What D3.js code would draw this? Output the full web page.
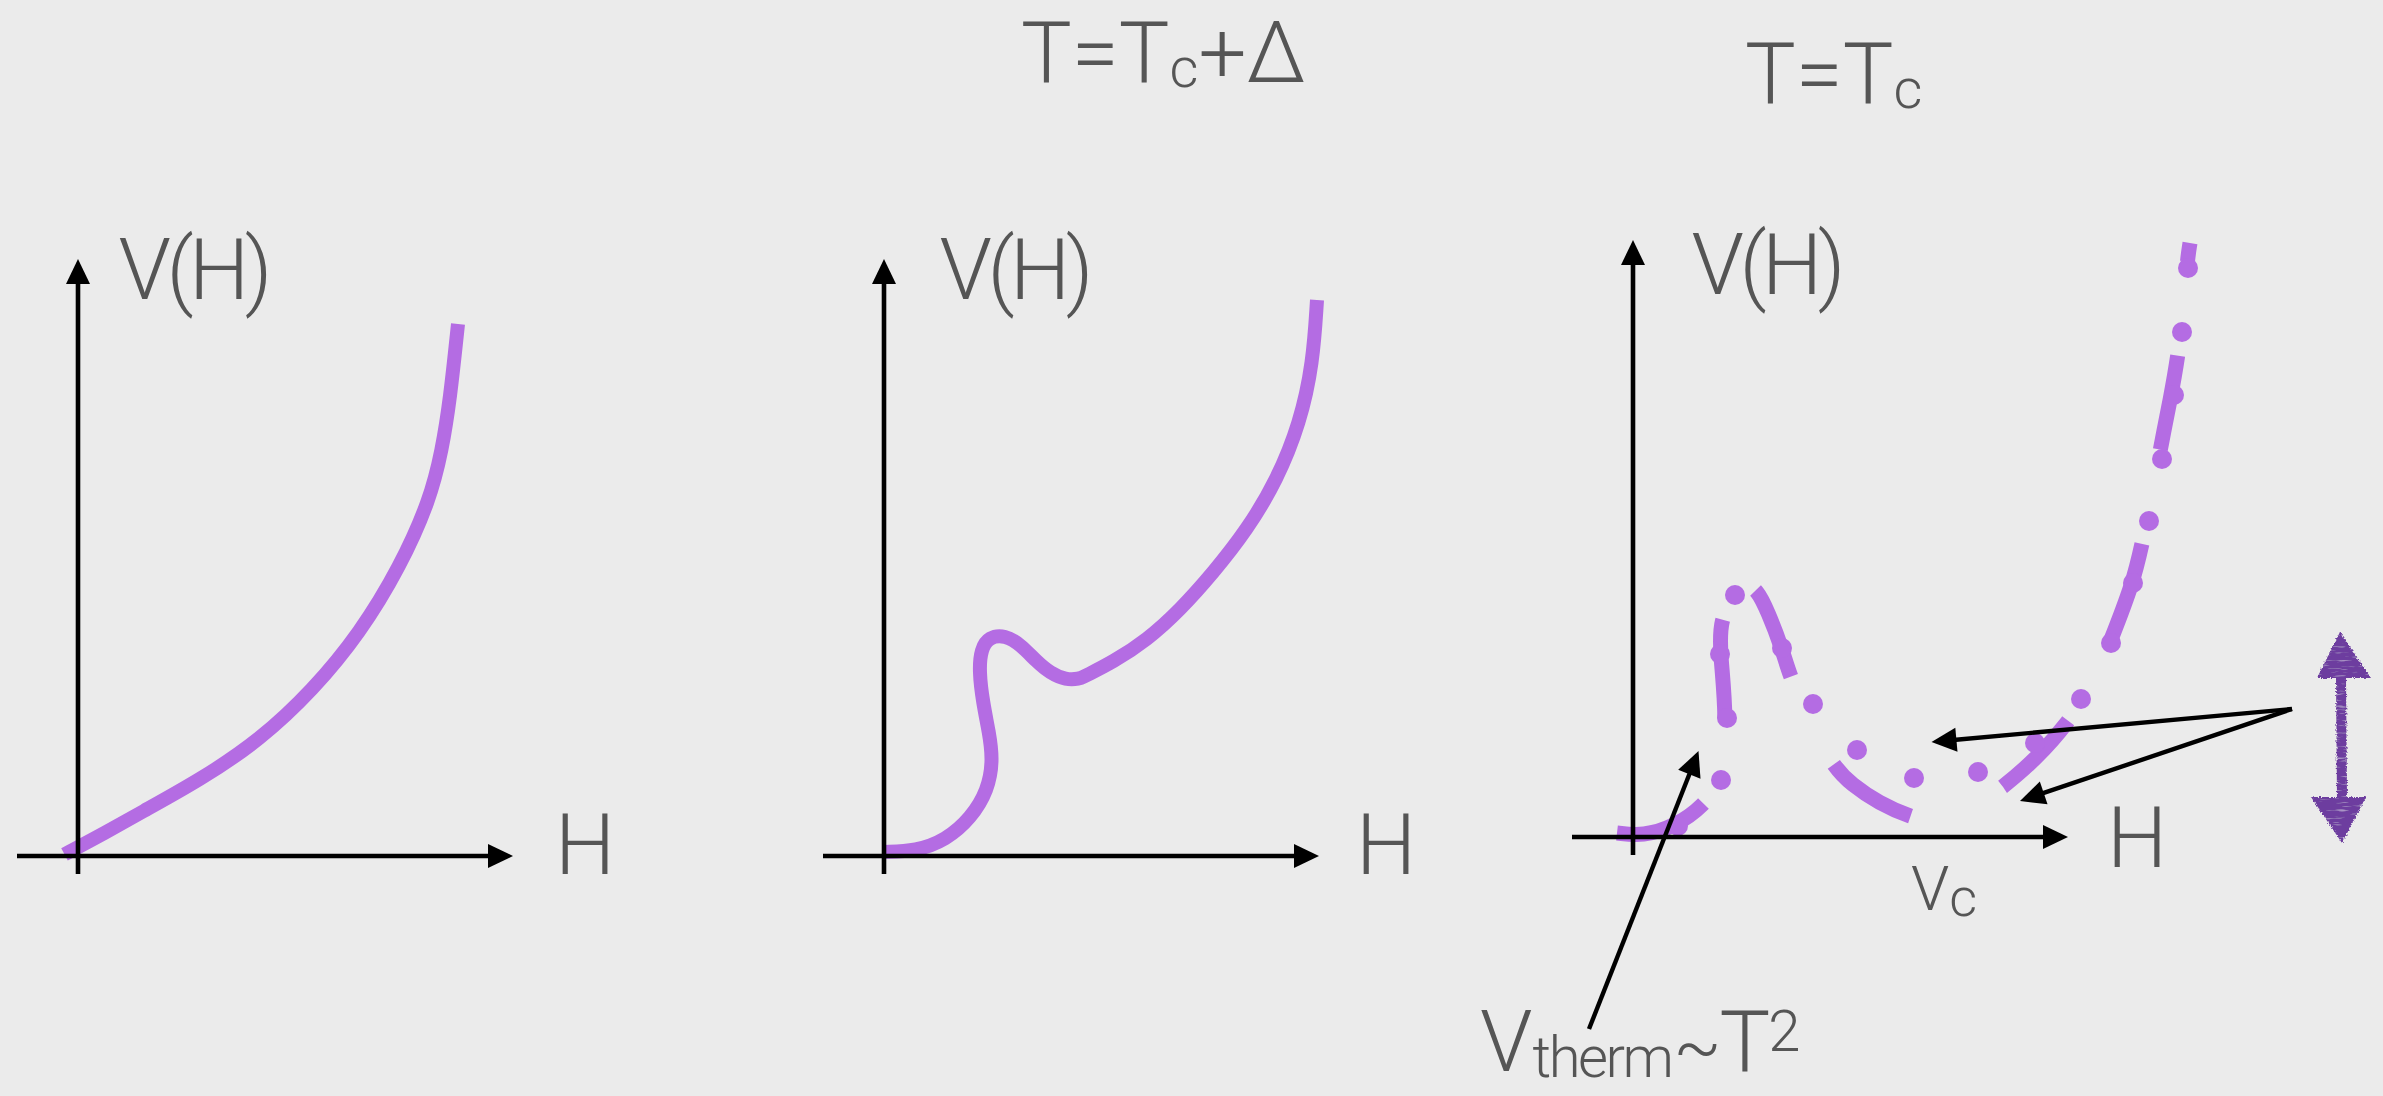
<!DOCTYPE html>
<html>
<head>
<meta charset="utf-8">
<script src="https://cdn.jsdelivr.net/npm/d3@7"></script>
<style>
html,body{margin:0;padding:0;background:#ebebeb;}
svg{display:block;}
text{font-family:"Roboto","Helvetica Neue","Liberation Sans",sans-serif;font-weight:300;fill:#555;}
</style>
</head>
<body>
<script>
// ---------------- DATA (panel units: H along x, V along y, origin at axis crossing) -------------
const panelTitles = ["", "T=Tc+Δ", "T=Tc"];
const axisH = [-0.61, 4.35];
const axisV = [-0.18, 5.97];

// Panel 1: smooth monotone potential
const panel1Curve = [[-0.135,0.016],[0.25,0.22],[0.62,0.43],[1.22,0.76],[1.82,1.16],[2.35,1.66],[2.82,2.23],
  [3.22,2.89],[3.52,3.56],[3.64,4.06],[3.72,4.56],[3.80,5.32]];

// Panel 2 (T = Tc + Δ): S-shaped bump, then rising branch (two pieces meeting at a corner)
const panel2CurveLow = [[0.00,0.04],[0.32,0.05],[0.62,0.16],[0.87,0.38],[1.04,0.66],[1.09,0.96],[1.05,1.24],
  [0.99,1.53],[0.95,1.85],[0.97,2.07],[1.05,2.19],[1.21,2.21],[1.37,2.11],[1.52,1.95],[1.66,1.83],
  [1.82,1.76],[1.95,1.77],[2.01,1.80]];
const panel2CurveHigh = [[2.01,1.80],[2.29,1.94],[2.63,2.16],[2.96,2.46],[3.29,2.83],[3.63,3.26],
  [3.93,3.76],[4.16,4.33],[4.29,4.93],[4.33,5.56]];

// Panel 3 (T = Tc): dashed curve (deeper minimum) ...
const panel3Dashed = [[-0.16,0.04],[0.10,0.01],[0.41,0.10],[0.72,0.32],[0.88,0.57],[0.94,1.19],[0.87,1.84],
  [0.87,2.18],[1.02,2.42],[1.12,2.53],[1.24,2.48],[1.35,2.25],[1.49,1.89],[1.57,1.60],[1.77,1.15],
  [1.99,0.72],[2.19,0.52],[2.46,0.34],[2.77,0.20],[3.07,0.13],[3.37,0.25],[3.70,0.50],[4.02,0.77],
  [4.36,1.15],[4.61,1.55],[4.78,1.97],[5.00,2.54],[5.09,2.93],[5.19,3.40],[5.27,3.87],[5.38,4.41],
  [5.45,4.81],[5.51,5.30],[5.54,5.75],[5.57,5.94]];
// indices of panel3Dashed where each visible dash starts / ends
const panel3DashRanges = [[0,3],[5,7],[10,13],[15,18],[21,23],[25,27],[29,31],[33,34]];
// ... and dotted curve (shallower minimum)
const panel3Dots = [[0.45,0.11],[0.88,0.57],[0.94,1.19],[0.87,1.83],[1.02,2.42],[1.49,1.89],[1.80,1.33],
  [2.24,0.87],[2.81,0.59],[3.45,0.65],[4.02,0.94],[4.48,1.38],[4.78,1.94],[5.00,2.54],[5.16,3.16],
  [5.29,3.78],[5.41,4.42],[5.49,5.05],[5.55,5.69]];

// annotation arrows in panel-3 units: [from, to]
const panel3Arrows = [
  [[-0.44,-1.92],[0.655,0.86]],
  [[6.59,1.28],[2.985,0.95]],
  [[6.59,1.28],[3.87,0.36]]
];
// vertical double arrow (panel-3 units): x, top tip, bottom tip
const doubleArrow = {x:7.08, top:2.05, bottom:-0.06};

// ---------------- LAYOUT ----------------
const W = 2383, H = 1096;
const panels = [
  {ox:78,  oy:856, vLabel:[0.405,5.57], hLabel:[4.77,-0.18]},
  {ox:884, oy:856, vLabel:[0.555,5.57], hLabel:[4.72,-0.18]},
  {ox:1633,oy:837, vLabel:[0.585,5.43], hLabel:[4.74,-0.30]}
];
const purple = "#b46ce3";
const unit = 100;

const svg = d3.select("body").append("svg").attr("width", W).attr("height", H);
svg.append("rect").attr("width", W).attr("height", H).attr("fill", "#ebebeb");

const defs = svg.append("defs");
const f = defs.append("filter").attr("id","crayon").attr("x","-30%").attr("y","-10%").attr("width","160%").attr("height","120%");
f.append("feTurbulence").attr("type","fractalNoise").attr("baseFrequency","0.6").attr("numOctaves",2).attr("seed",3).attr("result","noise");
f.append("feDisplacementMap").attr("in","SourceGraphic").attr("in2","noise").attr("scale",4).attr("xChannelSelector","R").attr("yChannelSelector","G").attr("result","disp");
f.append("feTurbulence").attr("type","fractalNoise").attr("baseFrequency","0.06 0.5").attr("numOctaves",2).attr("seed",9).attr("result","streak");
f.append("feColorMatrix").attr("in","streak").attr("type","matrix")
  .attr("values","0 0 0 0 0.80  0 0 0 0 0.68  0 0 0 0 0.92  1.6 0 0 0 -0.95").attr("result","streakA");
f.append("feComposite").attr("in","streakA").attr("in2","disp").attr("operator","in").attr("result","streakIn");
const fm = f.append("feMerge");
fm.append("feMergeNode").attr("in","disp");
fm.append("feMergeNode").attr("in","streakIn");

function scales(p){
  const x = d3.scaleLinear().domain([0,1]).range([p.ox, p.ox+unit]);
  const y = d3.scaleLinear().domain([0,1]).range([p.oy, p.oy-unit]);
  return {x, y};
}

function arrow(g, x0, y0, x1, y1, sw=4.6, len=25, hw=12, color="#000"){
  const dx = x1-x0, dy = y1-y0, L = Math.hypot(dx,dy), ux = dx/L, uy = dy/L;
  const bx = x1-ux*len, by = y1-uy*len;
  g.append("line").attr("x1",x0).attr("y1",y0).attr("x2",bx+ux*3).attr("y2",by+uy*3)
    .attr("stroke",color).attr("stroke-width",sw);
  g.append("polygon").attr("fill",color)
    .attr("points",[[x1,y1],[bx-uy*hw,by+ux*hw],[bx+uy*hw,by-ux*hw]].map(p=>p.join(",")).join(" "));
}

function drawAxes(g, s){
  arrow(g, s.x(axisH[0]), s.y(0), s.x(axisH[1]), s.y(0));
  arrow(g, s.x(0), s.y(axisV[0]), s.x(0), s.y(axisV[1]));
}

function axisLabels(g, s, p){
  g.append("text").attr("x", s.x(p.vLabel[0])).attr("y", s.y(p.vLabel[1])).attr("font-size",85)
    .attr("letter-spacing", -4.5).text("V(H)");
  g.append("text").attr("x", s.x(p.hLabel[0])).attr("y", s.y(p.hLabel[1])).attr("font-size",85).text("H");
}

const lineGen = s => d3.line().x(d=>s.x(d[0])).y(d=>s.y(d[1])).curve(d3.curveBasis);

// ---- Panel 1
{
  const p = panels[0], s = scales(p), g = svg.append("g");
  g.append("path").attr("d", lineGen(s)(panel1Curve)).attr("fill","none").attr("stroke",purple).attr("stroke-width",14);
  drawAxes(g, s);
  axisLabels(g, s, p);
}
// ---- Panel 2
{
  const p = panels[1], s = scales(p), g = svg.append("g");
  const l = lineGen(s);
  const d = l(panel2CurveLow) + l(panel2CurveHigh).replace(/^M/, "L");
  g.append("path").attr("d", d).attr("fill","none").attr("stroke",purple).attr("stroke-width",14).attr("stroke-linejoin","round");
  drawAxes(g, s);
  axisLabels(g, s, p);
}
// ---- Panel 3
{
  const p = panels[2], s = scales(p), g = svg.append("g");
  const path = g.append("path").attr("d", lineGen(s)(panel3Dashed)).attr("fill","none")
    .attr("stroke",purple).attr("stroke-width",15);
  const node = path.node(), total = node.getTotalLength();
  const samples = [];
  for (let t=0; t<=total; t+=0.5){ const pt = node.getPointAtLength(t); samples.push([t, pt.x, pt.y]); }
  const cum = []; let from = 0;
  panel3Dashed.forEach((d,i)=>{
    const px = s.x(d[0]), py = s.y(d[1]); let best = Infinity, bj = from;
    for (let j=from; j<samples.length; j++){
      const dd = (samples[j][1]-px)**2 + (samples[j][2]-py)**2;
      if (dd < best){ best = dd; bj = j; }
    }
    cum[i] = samples[bj][0]; from = bj;
  });
  const dash = [];
  panel3DashRanges.forEach((r,k)=>{
    dash.push(cum[r[1]]-cum[r[0]]);
    dash.push(k < panel3DashRanges.length-1 ? cum[panel3DashRanges[k+1][0]]-cum[r[1]] : total);
  });
  path.attr("stroke-dasharray", dash.join(" ")).attr("stroke-dashoffset", -cum[panel3DashRanges[0][0]]);

  g.selectAll("circle.dot").data(panel3Dots).join("circle").attr("class","dot")
    .attr("cx", d=>s.x(d[0])).attr("cy", d=>s.y(d[1])).attr("r", 10).attr("fill", purple);

  drawAxes(g, s);
  axisLabels(g, s, p);

  panel3Arrows.forEach(a => arrow(g, s.x(a[0][0]), s.y(a[0][1]), s.x(a[1][0]), s.y(a[1][1]), 4.4, 25, 12));

  // crayon double arrow
  const cx = s.x(doubleArrow.x), yt = s.y(doubleArrow.top), yb = s.y(doubleArrow.bottom);
  const headL = 46, shaft = 5;
  const da = g.append("g").attr("filter","url(#crayon)").attr("fill","#6d3c9f");
  da.append("polygon").attr("points", [[cx-1,yt],[cx+30,yt+headL],[cx-24,yt+headL]].map(q=>q.join(",")).join(" "));
  da.append("polygon").attr("points", [[cx+1,yb],[cx+25,yb-headL],[cx-30,yb-headL]].map(q=>q.join(",")).join(" "));
  da.append("polygon").attr("points", [[cx-shaft,yt+headL-2],[cx+shaft,yt+headL-2],[cx+shaft+1,yb-headL+2],[cx-shaft+1,yb-headL+2]].map(q=>q.join(",")).join(" "));

  // v_c label
  const vc = g.append("text").attr("x", s.x(2.78)).attr("y", s.y(-0.73)).attr("font-size",62);
  vc.append("tspan").text("V");
  vc.append("tspan").attr("font-size",54).attr("dy",6).text("c");

  // V_therm ~ T^2
  const vt = g.append("text").attr("x", s.x(-1.53)).attr("y", s.y(-2.34)).attr("font-size",85);
  vt.append("tspan").text("V");
  vt.append("tspan").attr("font-size",58).attr("dy",6).attr("letter-spacing",-2.5).text("therm");
  vt.append("tspan").attr("font-size",70).attr("dy",-6).attr("dx",2).text("~");
  vt.append("tspan").attr("dx",-2).text("T");
  vt.append("tspan").attr("font-size",58).attr("dy",-20).attr("dx",-2).text("2");
}

// ---- Titles
function title(x, y, main, sub, rest){
  const t = svg.append("text").attr("x", x).attr("y", y).attr("font-size",85);
  t.append("tspan").text(main);
  t.append("tspan").attr("font-size",56).attr("dy",5).text(sub);
  if (rest) t.append("tspan").attr("dy",-5).text(rest);
}
title(1021, 82, panelTitles[1].slice(0,3), "c", panelTitles[1].slice(4));
title(1745, 103, panelTitles[2].slice(0,3), "c", "");
</script>
</body>
</html>
